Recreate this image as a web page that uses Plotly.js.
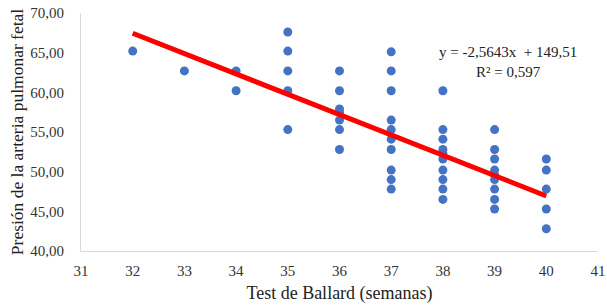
<!DOCTYPE html>
<html><head><meta charset="utf-8">
<script src="https://cdn.plot.ly/plotly-3.0.1.min.js"></script>
<style>html,body{margin:0;padding:0;background:#fff}#chart{width:607px;height:307px}</style>
</head><body><div id="chart"></div>
<script>
const ballard = [32,33,34,34,35,35,35,35,35,
  36,36,36,36,36,36,36,
  37,37,37,37,37,37,37,37,37,37,
  38,38,38,38,38,38,38,38,38,38,
  39,39,39,39,39,39,39,39,39,
  40,40,40,40,40];
const presion = [65.2,62.7,62.7,60.2,67.6,65.2,62.7,60.2,55.3,
  62.7,60.2,57.9,57.5,56.5,55.3,52.8,
  65.1,62.7,60.2,56.5,55.3,54.1,52.8,50.2,49.0,47.8,
  60.2,55.3,54.1,52.8,52.3,51.6,50.2,49.0,47.8,46.5,
  55.3,52.8,51.6,50.2,49.6,49.0,47.8,46.5,45.3,
  51.6,50.2,47.8,45.3,42.8];
const slope = -2.5643, intercept = 149.51;
const trendX = [32, 40];
const trendY = trendX.map(x => slope*x + intercept);
const eqText = "y = -2,5643x  + 149,51<br>R² = 0,597";
const font = "Liberation Serif";

Plotly.newPlot('chart', [
  {x: ballard, y: presion, type: 'scatter', mode: 'markers',
   marker: {color: '#4472C4', size: 9}, hoverinfo: 'skip'},
  {x: trendX, y: trendY, type: 'scatter', mode: 'lines',
   line: {color: '#FF0000', width: 5}, hoverinfo: 'skip'}
], {
  width: 607, height: 307,
  margin: {l: 81, r: 9, t: 13, b: 56},
  showlegend: false,
  separators: ', ',
  paper_bgcolor: '#fff', plot_bgcolor: '#fff',
  font: {family: font, size: 15, color: '#404040'},
  xaxis: {range: [31, 41], dtick: 1, tick0: 31, showgrid: false, zeroline: false,
    showline: true, linecolor: '#d9d9d9', linewidth: 1, ticks: '', ticklabelstandoff: 6,
    tickfont: {family: font, size: 15, color: '#333'},
    title: {text: 'Test de Ballard (semanas)', font: {family: font, size: 18, color: '#222'}, standoff: 8}},
  yaxis: {range: [40, 70], dtick: 5, tickformat: '.2f', showgrid: false, zeroline: false,
    showline: true, linecolor: '#d9d9d9', linewidth: 1, ticks: '', ticklabelstandoff: 13,
    tickfont: {family: font, size: 15, color: '#333'},
    title: {text: 'Presión de la arteria pulmonar fetal', font: {family: font, size: 17.5, color: '#222'}, standoff: 2}},
  annotations: [{x: 39.26, y: 63.8, xref: 'x', yref: 'y', text: eqText, showarrow: false,
    align: 'center', font: {family: font, size: 15, color: '#222'}}]
}, {staticPlot: true});
</script></body></html>
